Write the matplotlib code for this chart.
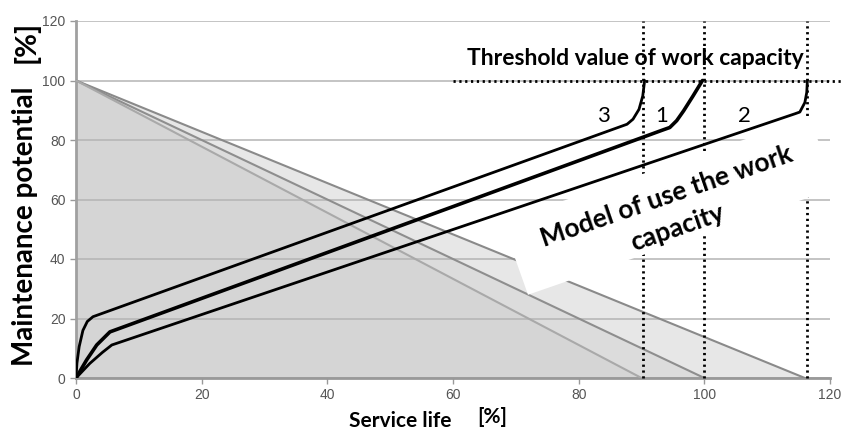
import matplotlib
matplotlib.use('Agg')
import matplotlib.pyplot as plt
from matplotlib.patches import Polygon

# service life at which each maintenance-potential triangle reaches zero
triangle_ends = [116, 100, 90]
triangle_fills = ['#e7e7e7', '#dcdcdc', '#d5d5d5']
triangle_edges = ['#8a8a8a', '#8e8e8e', '#a9a9a9']

# model curves of work-capacity use
curve1_x = [0, 1.7, 3.3, 5.4, 93.3, 94.5, 95.6, 96.7, 98.2, 99.7]
curve1_y = [0, 6.1, 11.1, 15.5, 83.3, 84.2, 86.5, 89.8, 94.8, 100]
curve2_x = [0, 2.2, 4.2, 5.7, 114.4, 115.2, 116.0, 116.3, 116.4]
curve2_y = [0, 4.9, 8.6, 11.1, 88.8, 89.4, 92.6, 96.0, 100]
curve3_x = [0, 0.15, 0.5, 1.1, 1.8, 2.7, 87.7, 88.65, 89.6, 90.2, 90.5]
curve3_y = [0, 5.0, 10.5, 16.0, 19.0, 20.6, 85.3, 87.0, 90.3, 94.8, 100]

threshold_x = [90.3, 100, 116.3]
threshold_y = 100

curve_labels = ['3', '1', '2']
curve_label_x = [83.9, 93.2, 106.4]
curve_label_y = 88

x_ticks = [0, 20, 40, 60, 80, 100, 120]
y_ticks = [0, 20, 40, 60, 80, 100, 120]

txt_font = ['Lato', 'DejaVu Sans']

fig = plt.figure(figsize=(8.55, 4.33), dpi=100)
ax = fig.add_axes([76 / 855, 55 / 433, 754 / 855, 357 / 433])

for end, fc in zip(triangle_ends, triangle_fills):
    ax.fill_between([0, end], [100, 0], 0, color=fc, lw=0, zorder=1)
for end, ec in zip(triangle_ends, triangle_edges):
    ax.plot([0, end], [100, 0], color=ec, lw=1.5, zorder=3)

ax.set_xlim(0, 120)
ax.set_ylim(0, 120)
ax.set_xticks(x_ticks)
ax.set_yticks(y_ticks)
ax.yaxis.grid(True, color='#b4b4b4', lw=1.1)
for gl in ax.get_ygridlines():
    gl.set_zorder(2)
ax.tick_params(colors='#999999', labelcolor='#555555', labelsize=10, length=4, width=1)
for lab in ax.get_xticklabels() + ax.get_yticklabels():
    lab.set_family('Liberation Sans')
ax.spines['top'].set_visible(False)
ax.spines['right'].set_visible(False)
ax.spines['left'].set_color('#a0a0a0')
ax.spines['left'].set_linewidth(2)
ax.spines['bottom'].set_color('#999999')
ax.spines['bottom'].set_linewidth(2)

# dotted thresholds
for x in threshold_x:
    ax.plot([x, x], [0, 120], color='black', lw=2, ls=(0, (0.8, 1.3)), zorder=4, clip_on=False)
ax.plot([60, 122], [threshold_y, threshold_y], color='black', lw=2, ls=(0, (0.8, 1.3)),
        zorder=4, clip_on=False)

# white box behind the rotated label
box = Polygon([(71.94, 27.98), (120.8, 63.7), (116.8, 87.6), (67.8, 52.6)],
              closed=True, fc='white', ec='none', zorder=5, clip_on=False)
ax.add_patch(box)
ax.text(94.8, 55.9, 'Model of use the work\ncapacity', rotation=19, rotation_mode='anchor',
        ha='center', va='center', multialignment='center', fontsize=19, fontweight='bold',
        family=txt_font, linespacing=1.45, zorder=6)

ax.plot(curve1_x, curve1_y, color='black', lw=2.6, zorder=7, solid_capstyle='round')
ax.plot(curve2_x, curve2_y, color='black', lw=2.0, zorder=7, solid_capstyle='round')
ax.plot(curve3_x, curve3_y, color='black', lw=2.0, zorder=7, solid_capstyle='round')

for lab, x in zip(curve_labels, curve_label_x):
    ax.text(x, curve_label_y, lab, ha='center', va='center', fontsize=16,
            family=txt_font, zorder=7)

ax.text(89.1, 107.3, 'Threshold value of work capacity', ha='center', va='center',
        fontsize=16.5, fontweight='bold', family=txt_font, zorder=7)

fig.text(25 / 855, 1 - 226 / 433, 'Maintenance potential', rotation=90, ha='center', va='center',
         fontsize=20, fontweight='bold', family=txt_font)
fig.text(26 / 855, 1 - 42 / 433, '[%]', rotation=90, ha='center', va='center',
         fontsize=21, fontweight='bold', family=txt_font)
fig.text(400 / 855, 1 - 421 / 433, 'Service life', ha='center', va='center',
         fontsize=15, fontweight='bold', family=txt_font)
fig.text(492 / 855, 1 - 417 / 433, '[%]', ha='center', va='center',
         fontsize=15, fontweight='bold', family=txt_font)

fig.savefig('out.png', dpi=100)
